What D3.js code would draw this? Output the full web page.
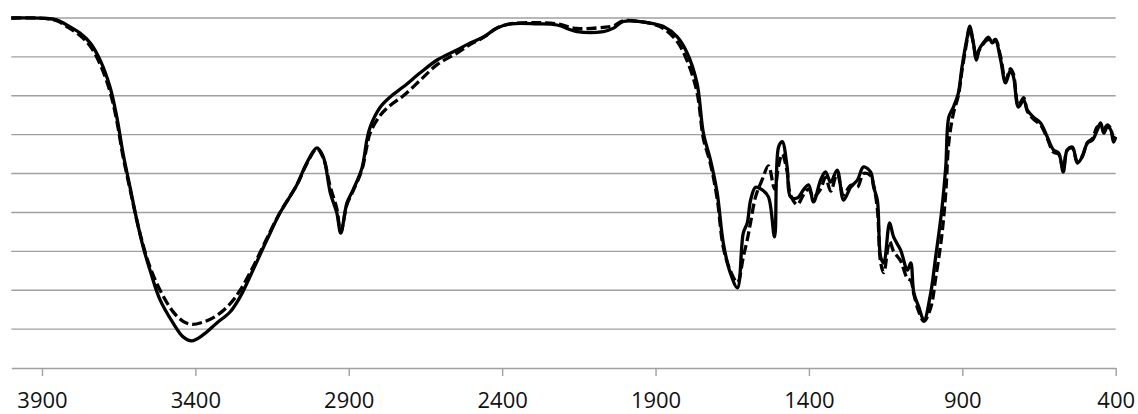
<!DOCTYPE html>
<html>
<head>
<meta charset="utf-8">
<script src="https://cdn.jsdelivr.net/npm/d3@7"></script>
<style>
  body { margin: 0; background: #fff; }
  svg { display: block; }
  .tick-label { font-family: "Open Sans", sans-serif; font-size: 22px; fill: #111; }
</style>
</head>
<body>
<svg id="chart"></svg>
<script>
//////////////// Daten ////////////////////
// Wellenzahl (cm-1), gemeinsam fuer beide Spektren
const wellenzahlen = [
  4000, 3890, 3852, 3819, 3776, 3743, 3710, 3678, 3656, 3636,
  3613, 3591, 3570, 3548, 3515, 3473, 3440, 3412, 3375, 3330,
  3287, 3254, 3212, 3167, 3124, 3069, 3037, 3004, 2983, 2960,
  2939, 2926, 2906, 2886, 2857, 2841, 2830, 2797, 2765, 2722,
  2667, 2612, 2547, 2504, 2461, 2417, 2373, 2286, 2221, 2156,
  2070, 2037, 2005, 1917, 1874, 1830, 1797, 1765, 1744, 1721,
  1699, 1679, 1656, 1633, 1614, 1601, 1590, 1574, 1552, 1532,
  1512, 1499, 1487, 1471, 1460, 1438, 1418, 1401, 1385, 1362,
  1346, 1329, 1308, 1287, 1264, 1242, 1222, 1199, 1189, 1177,
  1166, 1156, 1137, 1124, 1101, 1079, 1068, 1058, 1042, 1025,
  1003, 987, 967, 954, 944, 929, 913, 901, 884, 876,
  864, 854, 846, 825, 815, 802, 792, 775, 759, 743,
  733, 717, 700, 688, 668, 645, 623, 603, 586, 571,
  558, 541, 525, 509, 492, 476, 460, 449, 439, 427,
  416, 407, 400
];

// durchgezogene Linie
const probeA = [
  90.0, 89.9, 89.5, 88.2, 86.1, 83.6, 79.1, 72.2, 64.5, 55.3,
  46.5, 38.1, 31.1, 25.2, 17.5, 11.6, 8.0, 7.0, 8.5, 11.6,
  14.4, 18.3, 25.2, 32.9, 39.9, 47.1, 52.7, 56.6, 54.3, 45.0,
  39.9, 34.7, 42.4, 45.8, 51.4, 58.6, 62.0, 67.1, 69.7, 72.3,
  75.9, 79.2, 81.8, 83.6, 85.1, 87.4, 88.5, 88.5, 88.2, 86.5,
  86.5, 87.4, 89.1, 88.7, 87.8, 85.2, 81.0, 73.3, 60.4, 53.5,
  45.0, 32.1, 24.4, 20.6, 34.7, 37.3, 43.2, 46.5, 45.8, 44.0,
  33.7, 56.8, 58.2, 51.7, 44.0, 43.7, 45.8, 47.1, 42.7, 48.3,
  50.4, 47.8, 50.9, 43.2, 46.5, 48.3, 51.7, 50.4, 46.5, 43.2,
  28.5, 27.0, 37.3, 33.7, 30.3, 25.2, 27.0, 19.3, 15.7, 12.3,
  19.3, 28.5, 40.6, 51.7, 64.5, 67.1, 70.7, 77.4, 85.1, 87.9,
  83.6, 79.2, 81.8, 84.3, 85.1, 83.6, 84.3, 79.2, 73.3, 76.6,
  74.8, 67.1, 68.9, 66.3, 64.5, 63.0, 59.4, 56.1, 55.3, 50.4,
  56.1, 56.8, 52.7, 54.3, 57.9, 58.6, 61.2, 63.0, 60.4, 62.0,
  61.2, 58.1, 59.4
];

// gestrichelte Linie
const probeB = [
  90.0, 89.9, 89.3, 87.8, 85.5, 82.8, 78.0, 71.0, 63.5, 54.5,
  46.0, 38.0, 31.5, 26.0, 20.0, 14.5, 12.0, 11.2, 11.8, 13.5,
  16.5, 20.0, 26.0, 33.3, 40.0, 47.1, 52.5, 56.4, 54.0, 46.5,
  41.0, 35.0, 42.0, 45.5, 51.0, 57.0, 60.5, 65.0, 67.5, 70.0,
  74.0, 78.0, 81.0, 83.2, 85.0, 87.4, 88.5, 88.8, 88.5, 87.3,
  87.6, 88.0, 89.3, 88.6, 87.3, 84.0, 79.0, 71.0, 59.0, 52.5,
  43.5, 31.0, 25.0, 22.0, 28.5, 33.0, 37.5, 44.0, 48.5, 52.0,
  46.0, 52.0, 55.0, 50.5, 44.5, 42.0, 44.5, 46.0, 44.0, 46.0,
  49.0, 45.5, 50.0, 44.5, 47.0, 46.5, 50.0, 49.5, 47.0, 41.0,
  27.0, 24.5, 32.5, 30.0, 27.5, 23.0, 22.5, 19.0, 14.5, 12.0,
  15.5, 23.0, 34.0, 45.0, 58.0, 65.5, 70.0, 76.5, 84.5, 87.5,
  83.5, 79.5, 81.5, 84.0, 84.5, 84.0, 84.5, 80.0, 74.0, 77.0,
  75.5, 67.5, 69.5, 66.0, 64.0, 62.5, 59.0, 55.5, 55.0, 51.0,
  56.0, 56.5, 53.0, 54.5, 58.0, 59.0, 62.0, 62.0, 61.5, 62.5,
  61.5, 59.0, 59.5
];

const xTicks = [3900, 3400, 2900, 2400, 1900, 1400, 900, 400];
const yGrid = [10, 20, 30, 40, 50, 60, 70, 80, 90];

//////////////// Konstanten ////////////////////
const width = 1138,
  height = 414,
  plot = {left: 11.3, right: 1115.7, top: 18, bottom: 368};

////////////////// SVG ////////////
const svg = d3.select("#chart")
  .attr("width", width)
  .attr("height", height);

////////////////// Scaling ////////////
const xScale = d3.scaleLinear()
  .domain([4000, 400])
  .range([plot.left, plot.right]);
const yScale = d3.scaleLinear()
  .domain([0, 90])
  .range([plot.bottom, plot.top]);

//////////////// Gitter ///////////////
svg.append("g").attr("class", "grid")
  .selectAll("line")
  .data(yGrid)
  .enter()
  .append("line")
  .attr("x1", plot.left)
  .attr("x2", plot.right)
  .attr("y1", function(d) {return yScale(d);})
  .attr("y2", function(d) {return yScale(d);})
  .attr("stroke", "#a0a0a0")
  .attr("stroke-width", 1.4);

//////////////// Achse ///////////////
const xAxis = d3.axisBottom(xScale)
  .tickValues(xTicks)
  .tickFormat(d3.format("d"))
  .tickSizeInner(8)
  .tickSizeOuter(0)
  .tickPadding(16);

const axisG = svg.append("g")
  .attr("transform", "translate(0," + plot.bottom + ")")
  .call(xAxis);
axisG.attr("font-size", null).attr("font-family", null);
axisG.select(".domain")
  .attr("stroke", "#a0a0a0")
  .attr("stroke-width", 1.4);
axisG.selectAll(".tick line")
  .attr("stroke", "#a0a0a0")
  .attr("stroke-width", 1.4);
axisG.selectAll(".tick text")
  .attr("class", "tick-label");

//////////////// Linien ///////////////
function punkte(werte) {
  return wellenzahlen.map(function(w, i) {return {w: w, t: werte[i]};});
}

const linie = d3.line()
  .x(function(d) {return xScale(d.w);})
  .y(function(d) {return yScale(d.t);})
  .curve(d3.curveCatmullRom.alpha(0.5));

svg.append("path")
  .datum(punkte(probeB))
  .attr("d", linie)
  .attr("fill", "none")
  .attr("stroke", "#000")
  .attr("stroke-width", 3.3)
  .attr("stroke-dasharray", "10,4")
  .attr("stroke-linejoin", "round");

svg.append("path")
  .datum(punkte(probeA))
  .attr("d", linie)
  .attr("fill", "none")
  .attr("stroke", "#000")
  .attr("stroke-width", 3.3)
  .attr("stroke-linejoin", "round");
</script>
</body>
</html>
